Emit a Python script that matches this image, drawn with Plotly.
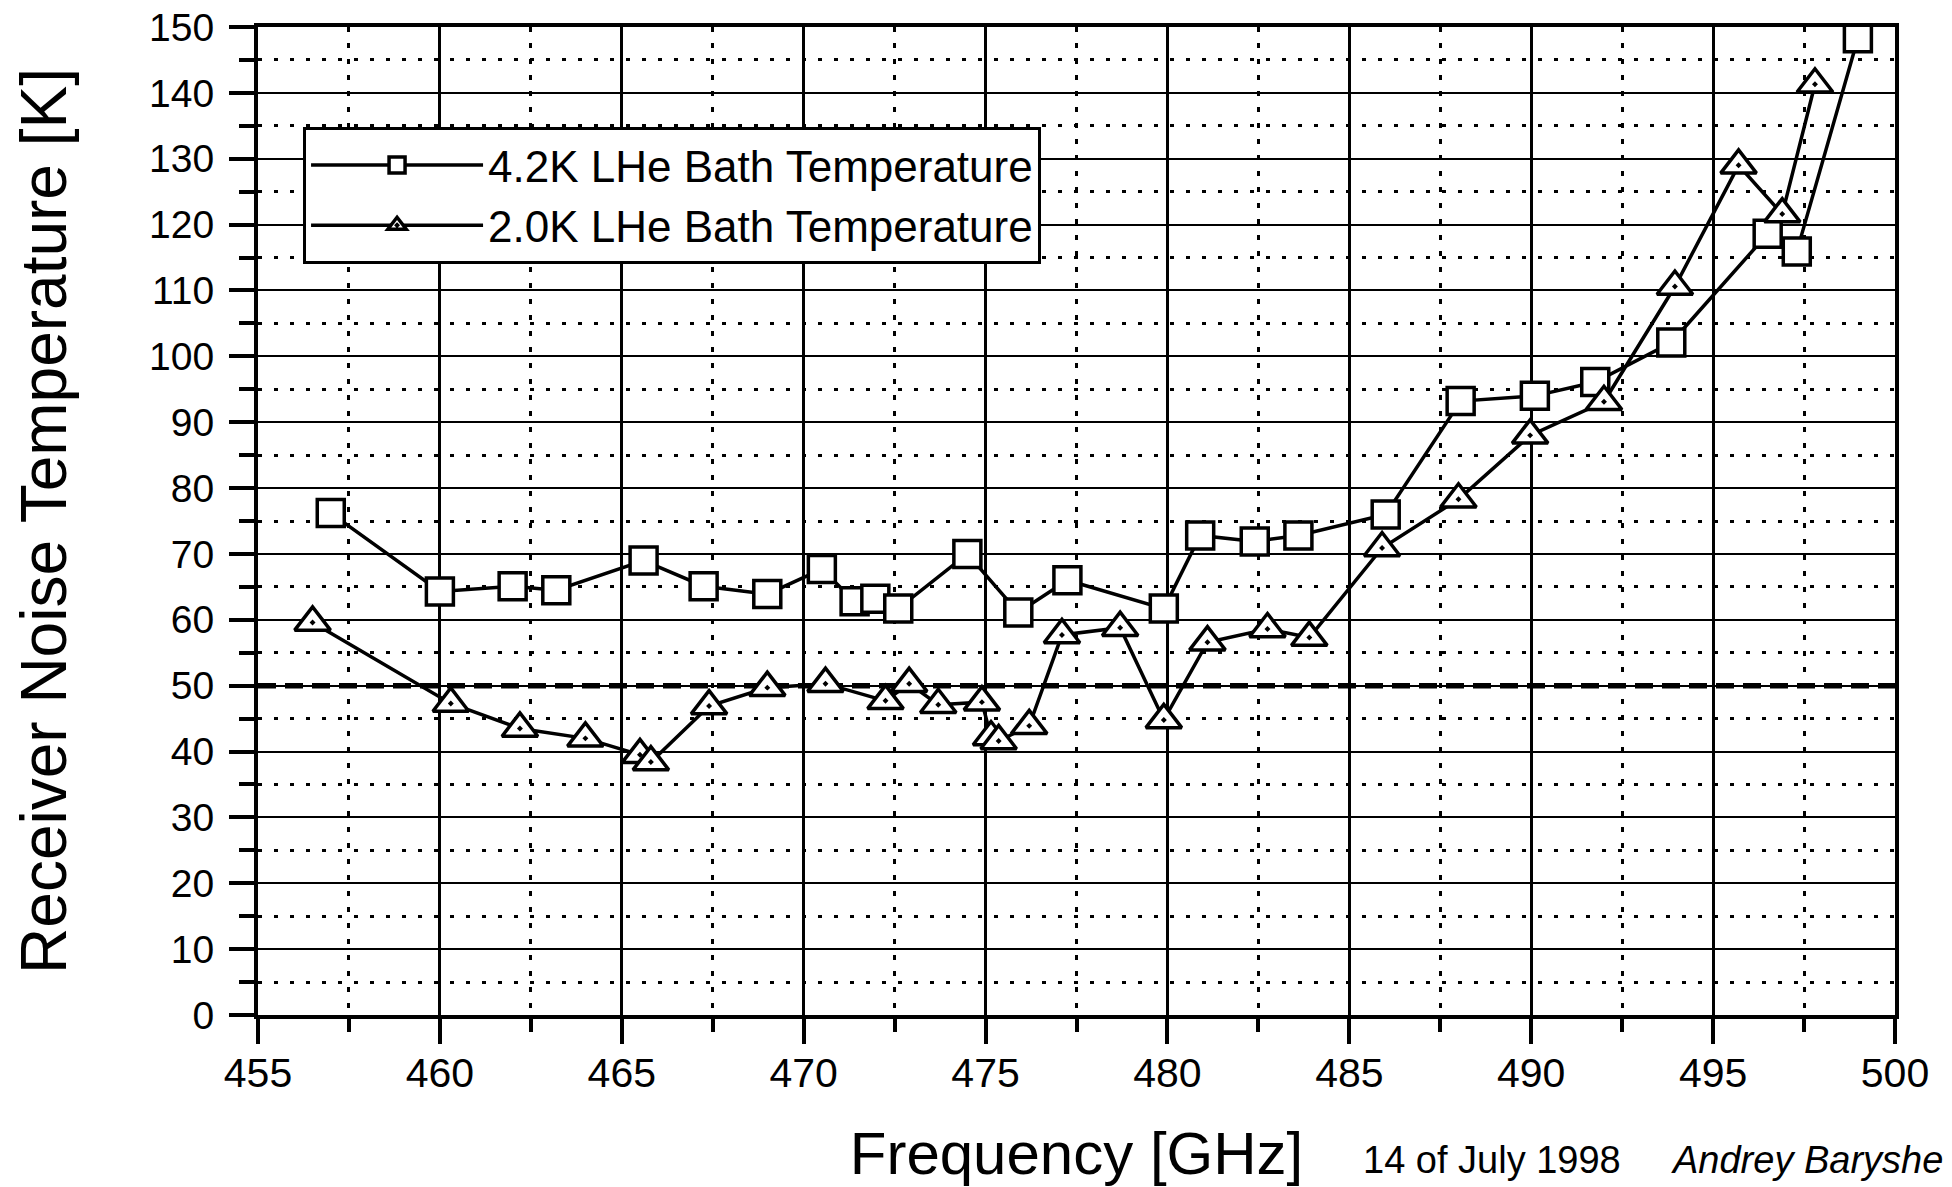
import plotly.graph_objects as go

# ---- data ----
freq_42k = [457.0, 460.0, 462.0, 463.2, 465.6, 467.25, 469.0, 470.5, 471.4, 471.97,
            472.6, 474.5, 475.9, 477.25, 479.9, 480.9, 482.4, 483.6, 486.0, 488.06,
            490.1, 491.76, 493.85, 496.5, 497.3, 498.98]
trx_42k = [76.2, 64.3, 65.1, 64.5, 69.0, 65.1, 63.9, 67.7, 62.8, 63.2,
           61.7, 70.0, 61.1, 66.0, 61.7, 72.8, 71.9, 72.8, 76.0, 93.2,
           94.0, 96.1, 102.1, 118.6, 115.9, 148.3]

freq_20k = [456.5, 460.3, 462.2, 464.0, 465.5, 465.8, 467.4, 469.0, 470.6, 472.25,
            472.9, 473.7, 474.9, 475.15, 475.36, 476.2, 477.1, 478.7, 479.9, 481.1,
            482.75, 483.9, 485.9, 488.0, 489.97, 492.0, 493.95, 495.7, 496.9, 497.8]
trx_20k = [59.6, 47.3, 43.5, 42.0, 39.5, 38.4, 46.9, 49.7, 50.3, 47.7,
           50.3, 47.1, 47.5, 42.2, 41.6, 43.9, 57.7, 58.8, 44.8, 56.6,
           58.6, 57.3, 70.9, 78.3, 88.0, 93.1, 110.6, 129.0, 121.6, 141.3]

series_names = ["4.2K LHe Bath Temperature", "2.0K LHe Bath Temperature"]
x_range = [455, 500]
y_range = [0, 150]
reference_level = 50
x_title = "Frequency [GHz]"
y_title = "Receiver Noise Temperature [K]"
date_note = "14 of July 1998"
author_note = "Andrey Baryshe"

FONT = "Liberation Sans, Arial, Helvetica, sans-serif"

fig = go.Figure()
fig.add_trace(go.Scatter(
    x=freq_42k, y=trx_42k, name=series_names[0], mode="lines+markers",
    line=dict(color="black", width=3.5),
    marker=dict(symbol="square", size=27, color="white",
                line=dict(color="black", width=3.5)),
))
fig.add_trace(go.Scatter(
    x=freq_20k, y=trx_20k, name=series_names[1], mode="lines+markers",
    line=dict(color="black", width=3.5),
    marker=dict(symbol="triangle-up-dot", size=31, color="white",
                line=dict(color="black", width=3.5)),
))

fig.add_shape(type="line", xref="x", yref="y",
              x0=x_range[0], x1=x_range[1], y0=reference_level, y1=reference_level,
              line=dict(color="black", width=5.5, dash="18px,9px"), layer="below")

fig.add_annotation(text=date_note, xref="paper", yref="paper",
                   x=(1360 - 258) / 1635, y=-0.147, xanchor="left", yanchor="middle",
                   showarrow=False, font=dict(family=FONT, size=38, color="black"))
fig.add_annotation(text="<i>" + author_note + "</i>", xref="paper", yref="paper",
                   x=(1667 - 258) / 1635, y=-0.147, xanchor="left", yanchor="middle",
                   showarrow=False, font=dict(family=FONT, size=38, color="black"))

fig.update_xaxes(
    range=x_range, dtick=5, tick0=455, automargin=False,
    showline=True, linecolor="black", linewidth=4, mirror=True,
    ticks="outside", ticklen=25, tickwidth=4, tickcolor="black",
    showgrid=True, gridcolor="black", gridwidth=2.5,
    zeroline=False,
    tickfont=dict(family=FONT, size=41, color="black"),
    ticklabelstandoff=-6,
    minor=dict(dtick=2.5, tick0=455, ticks="outside", ticklen=13, tickwidth=4,
               tickcolor="black", showgrid=True, gridcolor="black", gridwidth=2.5,
               griddash="5px,11px"),
    title=dict(text=x_title, font=dict(family=FONT, size=60, color="black"), standoff=38),
)
fig.update_yaxes(
    range=y_range, dtick=10, tick0=0, automargin=False,
    showline=True, linecolor="black", linewidth=4, mirror=True,
    ticks="outside", ticklen=25, tickwidth=4, tickcolor="black",
    showgrid=True, gridcolor="black", gridwidth=2.2,
    zeroline=False,
    tickfont=dict(family=FONT, size=39, color="black"),
    ticklabelstandoff=7,
    minor=dict(dtick=5, tick0=0, ticks="outside", ticklen=15, tickwidth=4,
               tickcolor="black", showgrid=True, gridcolor="black", gridwidth=2.5,
               griddash="4px,12px"),
    title=dict(text=y_title, font=dict(family=FONT, size=64, color="black"), standoff=63),
)

fig.update_layout(
    width=1952, height=1187,
    margin=dict(l=258, r=57, t=27, b=172),
    paper_bgcolor="white", plot_bgcolor="white",
    font=dict(family=FONT, color="black"),
    showlegend=True,
    legend=dict(x=(303 - 258) / 1635, y=(1015 - 127) / 988, xanchor="left", yanchor="top",
                bgcolor="white", bordercolor="black", borderwidth=3,
                font=dict(family=FONT, size=44, color="black"),
                itemwidth=172, traceorder="normal"),
)

fig.write_html("out.html", config={"displayModeBar": False},
               post_script="document.body.style.margin='0';document.body.style.overflow='hidden';")
